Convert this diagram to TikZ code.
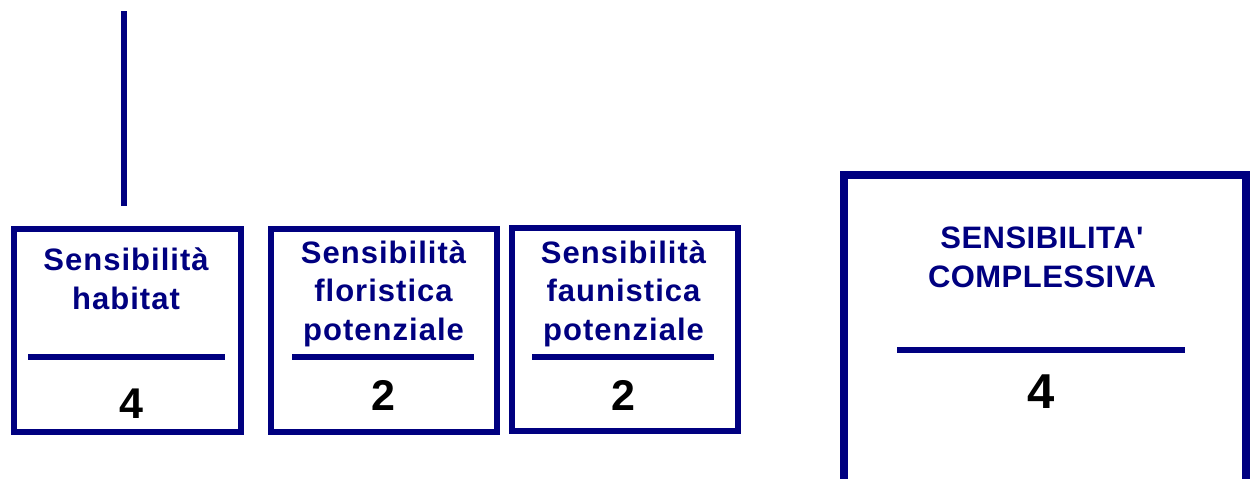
\documentclass[tikz,border=0pt]{standalone}
\usepackage{fontspec}
\setmainfont{Liberation Sans}
\newfontfamily\labfont[LetterSpace=3.3]{Liberation Sans}
\newfontfamily\capfont[LetterSpace=1.5]{Liberation Sans}
\definecolor{navy}{RGB}{0,0,128}
\begin{document}
\begin{tikzpicture}[x=1pt,y=-1pt]
\tikzset{
  box/.style={draw=navy, line width=6pt, rectangle, inner sep=0pt, outer sep=0pt},
  bigbox/.style={box, line width=8pt},
  sep/.style={draw=navy, line width=6pt},
  title/.style={text=navy, align=center, anchor=base, inner sep=0pt, font=\labfont\bfseries\fontsize{31}{38.5}\selectfont},
  bigtitle/.style={text=navy, align=center, anchor=base, inner sep=0pt, font=\capfont\bfseries\fontsize{31}{39}\selectfont},
  value/.style={text=black, anchor=base, inner sep=0pt, font=\bfseries\fontsize{43}{43}\selectfont},
  bigvalue/.style={value, font=\bfseries\fontsize{49}{49}\selectfont},
  link/.style={draw=navy, line width=6pt}
}
\clip (0,0) rectangle (1253,479);
\fill[white] (0,0) rectangle (1253,479);
% connector above first box
\coordinate (ltop) at (124,11);
\coordinate (lbot) at (124,206);
\draw[link] (ltop) -- (lbot);
% boxes
\node[box, minimum width=227pt, minimum height=203pt] (b1) at (127.5,330.5) {};
\node[box, minimum width=226pt, minimum height=203pt] (b2) at (384,330.5) {};
\node[box, minimum width=226pt, minimum height=203pt] (b3) at (625,329.5) {};
\node[bigbox, minimum width=402pt, minimum height=345pt] (b4) at (1045,347.5) {};
% separators
\draw[sep] (28,357) -- (225,357);
\draw[sep] (292,357) -- (474,357);
\draw[sep] (532,357) -- (714,357);
\draw[sep] (897,350) -- (1185,350);
% titles (base anchor = baseline of last line)
\node[title] (t1) at (126,309) {Sensibilità\\habitat};
\node[title] (t2) at (383.5,340) {Sensibilità\\floristica\\potenziale};
\node[title] (t3) at (623.5,340) {Sensibilità\\faunistica\\potenziale};
\node[bigtitle] (t4) at (1042,287) {SENSIBILITA'\\COMPLESSIVA};
% values
\node[value] (v1) at (131,418) {4};
\node[value] (v2) at (383.5,410) {2};
\node[value] (v3) at (623.5,410) {2};
\node[bigvalue] (v4) at (1041,408) {4};
\end{tikzpicture}
\end{document}
